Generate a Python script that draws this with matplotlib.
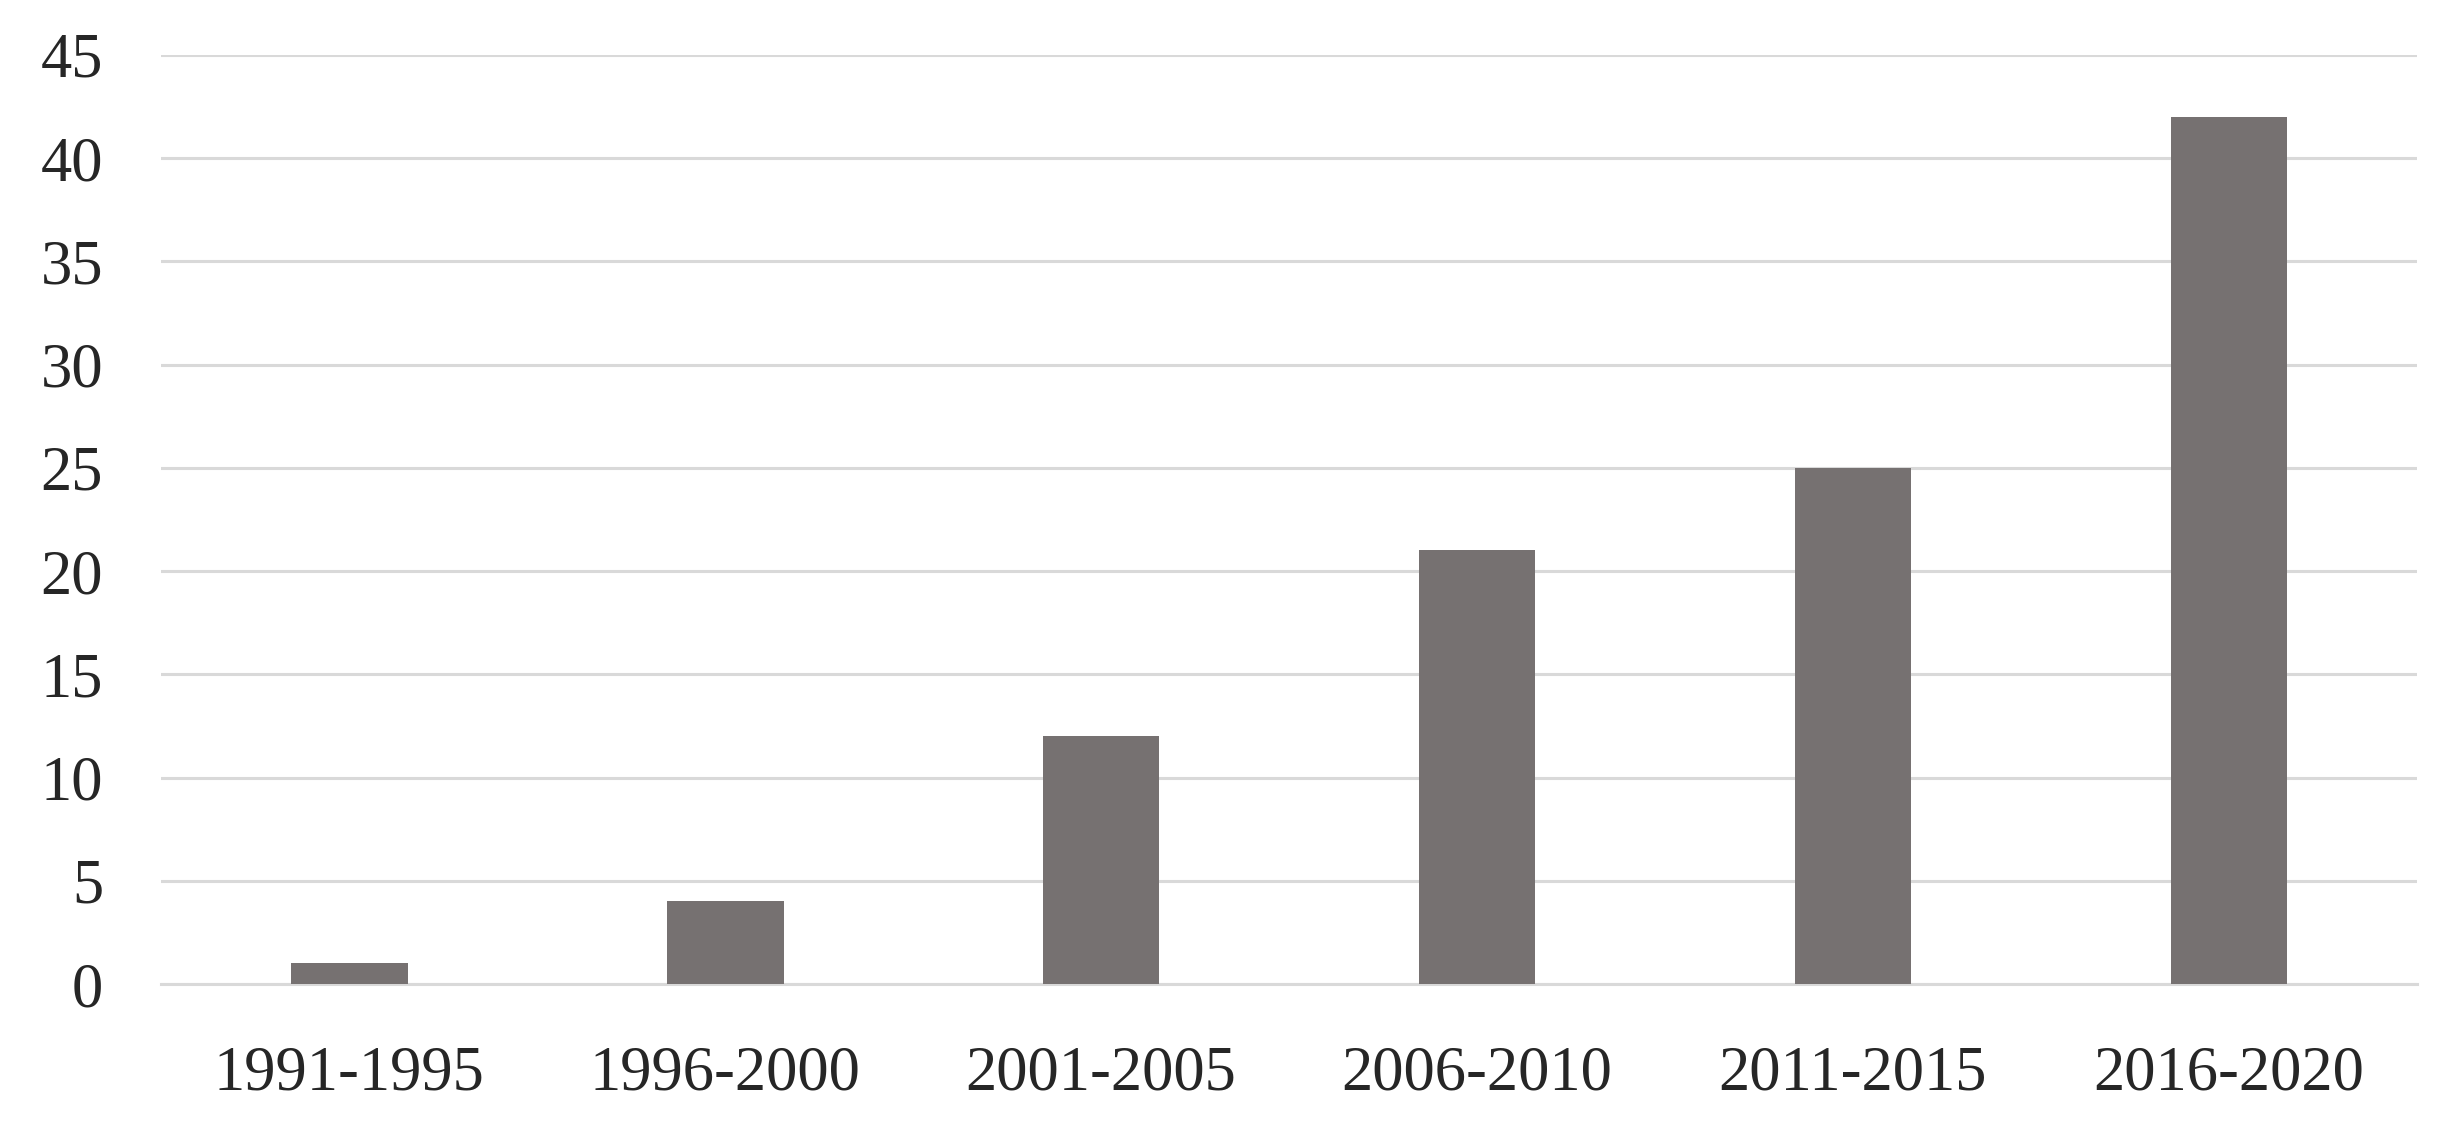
import matplotlib
matplotlib.use("Agg")
import matplotlib.pyplot as plt

periods = ["1991-1995", "1996-2000", "2001-2005", "2006-2010", "2011-2015", "2016-2020"]
counts = [1, 4, 12, 21, 25, 42]
y_ticks = [0, 5, 10, 15, 20, 25, 30, 35, 40, 45]

plt.rcParams["font.family"] = ["Liberation Serif", "DejaVu Serif"]

fig = plt.figure(figsize=(24.61, 11.38), dpi=100)
ax = fig.add_axes([0.0656, 0.1353, 0.9164, 0.8164])

x = range(len(periods))
ax.bar(x, counts, width=0.31, color="#767171", zorder=3)

ax.set_xlim(-0.5, len(periods) - 0.5)
ax.set_ylim(0, 45)
ax.set_yticks(y_ticks)
ax.set_xticks(list(x))
ax.set_xticklabels(periods)

ax.grid(axis="y", color="#d9d9d9", linewidth=2.2, zorder=0)
for s in ["top", "right", "left"]:
    ax.spines[s].set_visible(False)
ax.spines["bottom"].set_color("#d9d9d9")
ax.spines["bottom"].set_linewidth(2.2)

ax.tick_params(axis="both", length=0, labelsize=45, colors="#262626")
ax.tick_params(axis="y", pad=42)
ax.tick_params(axis="x", pad=44)

fig.savefig("out.png", dpi=100, facecolor="white")
